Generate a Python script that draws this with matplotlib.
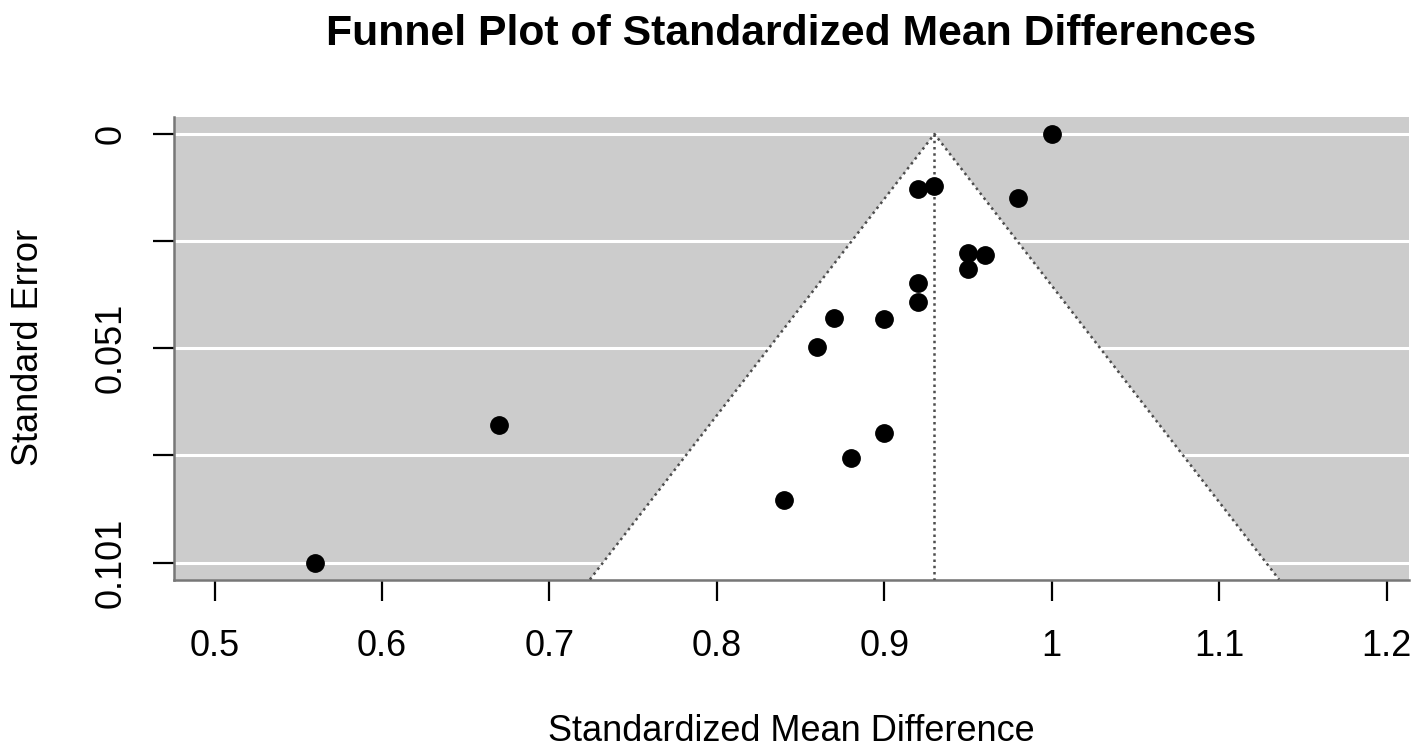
import matplotlib
matplotlib.use("Agg")
import matplotlib.pyplot as plt
import numpy as np

# data
smd = [1.00, 0.93, 0.92, 0.98, 0.95, 0.96, 0.95, 0.92, 0.92, 0.87, 0.90, 0.86, 0.67, 0.90, 0.88, 0.84, 0.56]
se = [0.0, 0.0122, 0.0129, 0.0150, 0.0281, 0.0286, 0.0319, 0.0350, 0.0395, 0.0434, 0.0437, 0.0503, 0.0686, 0.0705, 0.0764, 0.0863, 0.1010]
estimate = 0.93
x_ticks = [0.5, 0.6, 0.7, 0.8, 0.9, 1.0, 1.1, 1.2]
x_tick_labels = ["0.5", "0.6", "0.7", "0.8", "0.9", "1", "1.1", "1.2"]
se_max = 0.101
y_ticks = [0, se_max / 4, se_max / 2, 3 * se_max / 4, se_max]
y_tick_labels = ["0", "", "0.051", "", "0.101"]

plt.rcParams['font.family'] = ['Liberation Sans', 'DejaVu Sans']

W, H = 1418, 755
fig = plt.figure(figsize=(W / 100, H / 100), dpi=100)
L, R, T, B = 174, 1409, 117.3, 579.5
ax = fig.add_axes([L / W, 1 - B / H, (R - L) / W, (B - T) / H])

xlim = (0.4758, 1.2134)
ylim_bottom = 0.105
ylim_top = -0.00394
ax.set_xlim(*xlim)
ax.set_ylim(ylim_bottom, ylim_top)

ax.set_facecolor('#cccccc')

# funnel region
zc = 1.96
fx = [estimate - zc * ylim_bottom, estimate, estimate + zc * ylim_bottom]
fy = [ylim_bottom, 0, ylim_bottom]
ax.fill(fx, fy, color='white', zorder=1, lw=0)

# horizontal white lines
for yv in y_ticks:
    ax.axhline(yv, color='white', lw=2.2, zorder=2)

# funnel edges and center line
ax.plot(fx, fy, color='#4d4d4d', lw=1.8, ls=(0, (1, 1.5)), zorder=3)
ax.plot([estimate, estimate], [0, ylim_bottom], color='#4d4d4d', lw=1.8, ls=(0, (1, 1.5)), zorder=3)

# points
ax.plot(smd, se, 'o', color='black', ms=12.5, zorder=4, mec='black')

# axes styling
for s in ['top', 'right']:
    ax.spines[s].set_visible(False)
for s in ['left', 'bottom']:
    ax.spines[s].set_color('#777777')
    ax.spines[s].set_linewidth(1.8)

ax.set_xticks(x_ticks)
ax.set_xticklabels(x_tick_labels)
ax.set_yticks(y_ticks)
ax.set_yticklabels(y_tick_labels, rotation=90, va='center')
ax.tick_params(axis='both', length=15, width=1.6, color='black', labelsize=26)
ax.tick_params(axis='x', pad=20.5)
ax.tick_params(axis='y', pad=18)

ax.set_xlabel('Standardized Mean Difference', fontsize=26)
ax.xaxis.set_label_coords(0.5, (B - 741) / (B - T))
ax.xaxis.label.set_va('baseline')

ax.set_ylabel('Standard Error', fontsize=26, rotation=90)
ax.yaxis.set_label_coords((38 - L) / (R - L), (B - 347) / (B - T))
ax.yaxis.label.set_rotation_mode('anchor')
ax.yaxis.label.set_va('baseline')
ax.yaxis.label.set_ha('center')

fig.text(791 / W, 1 - 45 / H, 'Funnel Plot of Standardized Mean Differences',
         fontsize=30.8, fontweight='bold', ha='center', va='baseline')

fig.savefig('out.png', dpi=100)
